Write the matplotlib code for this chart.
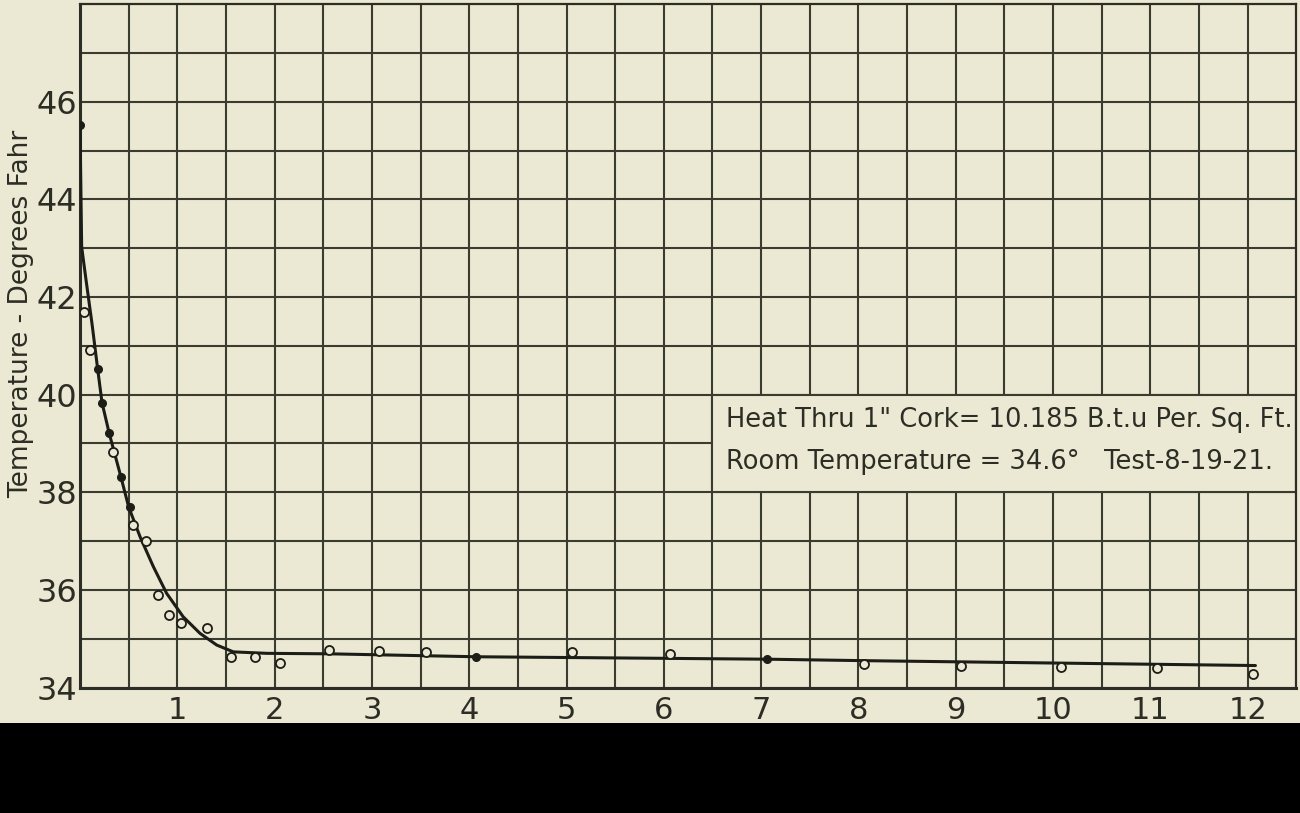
import matplotlib
matplotlib.use("Agg")
import matplotlib.pyplot as plt
from matplotlib.patches import Rectangle
import numpy as np

# ---- data ----
curve_x = [0.0, 0.017, 0.062, 0.123, 0.182, 0.226, 0.30, 0.42, 0.50, 0.617,
           0.753, 0.89, 1.06, 1.233, 1.405, 1.576, 1.92, 2.57, 4.07, 7.06,
           8.06, 12.08]
curve_y = [45.53, 43.03, 42.35, 41.46, 40.52, 39.84, 39.21, 38.32, 37.70, 37.09,
           36.48, 35.93, 35.45, 35.11, 34.87, 34.73, 34.70, 34.69, 34.63, 34.58,
           34.55, 34.45]

filled_x = [0.0, 0.18, 0.226, 0.30, 0.42, 0.51, 4.07, 7.06]
filled_y = [45.53, 40.52, 39.84, 39.21, 38.32, 37.70, 34.63, 34.58]

open_x = [0.044, 0.103, 0.342, 0.548, 0.675, 0.805, 0.915, 1.038, 1.31, 1.55,
          1.80, 2.06, 2.56, 3.07, 3.56, 5.06, 6.06, 8.06, 9.05, 10.08,
          11.07, 12.06]
open_y = [41.70, 40.92, 38.83, 37.32, 37.00, 35.90, 35.49, 35.32, 35.21, 34.63,
          34.63, 34.51, 34.77, 34.75, 34.73, 34.72, 34.69, 34.48, 34.45, 34.41,
          34.39, 34.28]

x_ticks = [1, 2, 3, 4, 5, 6, 7, 8, 9, 10, 11, 12]
y_ticks = [34, 36, 38, 40, 42, 44, 46]
y_label = "Temperature - Degrees Fahr"
note_lines = ['Heat Thru 1" Cork= 10.185 B.t.u Per. Sq. Ft.',
              'Room Temperature = 34.6\u00b0   Test-8-19-21.']

# ---- style ----
BG = "#ebe9d3"
INK = "#2c2d24"
GRID = "#3b3c30"

fig = plt.figure(figsize=(13, 8.13), dpi=100, facecolor=BG)
ax = fig.add_axes([80 / 1300, (813 - 687.5) / 813, 1216.3 / 1300, 683.2 / 813])
ax.set_facecolor(BG)
ax.set_xlim(0, 12.5)
ax.set_ylim(34, 48)

ax.set_xticks(x_ticks)
ax.set_xticklabels([str(v) for v in x_ticks])
ax.set_xticks(np.arange(0.5, 12.5, 1.0), minor=True)
ax.set_yticks(y_ticks)
ax.set_yticklabels([str(v) for v in y_ticks])
ax.set_yticks(np.arange(35, 48, 2), minor=True)
ax.tick_params(which="both", length=0)
ax.tick_params(axis="x", pad=6, labelsize=22, labelcolor=INK)
ax.tick_params(axis="y", pad=2, labelsize=23, labelcolor=INK)
ax.grid(True, which="both", color=GRID, linewidth=1.5)

for s in ("left", "bottom"):
    ax.spines[s].set_linewidth(2.2)
    ax.spines[s].set_color(INK)
for s in ("top", "right"):
    ax.spines[s].set_linewidth(1.6)
    ax.spines[s].set_color(INK)

ax.set_ylabel(y_label, fontsize=19, color=INK)
ax.yaxis.set_label_coords(-0.038, (41.65 - 34) / 14)

# note box covering the grid
ax.add_patch(Rectangle((6.5, 38), 6.0, 2.0, facecolor=BG, edgecolor=GRID,
                       linewidth=1.5, zorder=2.5))
ax.text(6.64, 39.48, note_lines[0], fontsize=18.5, color=INK, va="center",
        ha="left", zorder=3)
ax.text(6.64, 38.62, note_lines[1], fontsize=18.5, color=INK, va="center",
        ha="left", zorder=3)

ax.plot(curve_x, curve_y, color="#1c1d16", linewidth=2.2, zorder=4,
        solid_capstyle="round")
ax.plot(open_x, open_y, linestyle="none", marker="o", markersize=6.5,
        markerfacecolor=BG, markeredgecolor="#1c1d16", markeredgewidth=1.3,
        zorder=5)
ax.plot(filled_x, filled_y, linestyle="none", marker="o", markersize=5.5,
        markerfacecolor="#1c1d16", markeredgecolor="#1c1d16", zorder=5)

# dark band at the bottom of the scan
fig.patches.append(Rectangle((0, 0), 1, (813 - 722.5) / 813,
                             transform=fig.transFigure, facecolor="black",
                             edgecolor="none", zorder=10))

fig.savefig("out.png", dpi=100, facecolor=BG)
